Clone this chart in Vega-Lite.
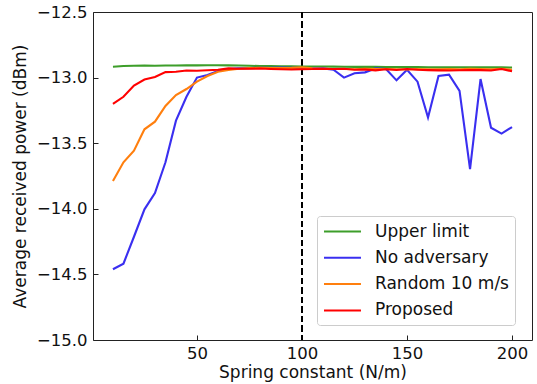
{
  "$schema": "https://vega.github.io/schema/vega-lite/v6.json",
  "width": 439,
  "height": 328,
  "autosize": {"type": "none"},
  "padding": {"left": 93, "top": 12, "right": 5, "bottom": 44},
  "config": {
    "font": "DejaVu Sans",
    "view": {"stroke": "#222", "strokeWidth": 1},
    "axis": {
      "domain": false,
      "grid": false,
      "ticks": true,
      "tickColor": "#222",
      "tickSize": -5,
      "labelFont": "DejaVu Sans",
      "labelFontSize": 16.5,
      "labelColor": "#111",
      "titleFont": "DejaVu Sans",
      "titleFontSize": 17,
      "titleFontWeight": "normal",
      "titleColor": "#111"
    }
  },
  "data": {
    "values": [
      {"k": 10, "Upper limit": -12.917, "No adversary": -14.461, "Random 10 m/s": -13.788, "Proposed": -13.2},
      {"k": 15, "Upper limit": -12.912, "No adversary": -14.418, "Random 10 m/s": -13.646, "Proposed": -13.146},
      {"k": 20, "Upper limit": -12.91, "No adversary": -14.213, "Random 10 m/s": -13.557, "Proposed": -13.06},
      {"k": 25, "Upper limit": -12.908, "No adversary": -14.004, "Random 10 m/s": -13.394, "Proposed": -13.015},
      {"k": 30, "Upper limit": -12.91, "No adversary": -13.88, "Random 10 m/s": -13.336, "Proposed": -12.995},
      {"k": 35, "Upper limit": -12.908, "No adversary": -13.645, "Random 10 m/s": -13.216, "Proposed": -12.958},
      {"k": 40, "Upper limit": -12.908, "No adversary": -13.328, "Random 10 m/s": -13.133, "Proposed": -12.955},
      {"k": 45, "Upper limit": -12.906, "No adversary": -13.146, "Random 10 m/s": -13.087, "Proposed": -12.946},
      {"k": 50, "Upper limit": -12.907, "No adversary": -13.0, "Random 10 m/s": -13.031, "Proposed": -12.948},
      {"k": 55, "Upper limit": -12.906, "No adversary": -12.98, "Random 10 m/s": -12.988, "Proposed": -12.944},
      {"k": 60, "Upper limit": -12.906, "No adversary": -12.95, "Random 10 m/s": -12.955, "Proposed": -12.94},
      {"k": 65, "Upper limit": -12.907, "No adversary": -12.935, "Random 10 m/s": -12.942, "Proposed": -12.93},
      {"k": 70, "Upper limit": -12.908, "No adversary": -12.93, "Random 10 m/s": -12.932, "Proposed": -12.932},
      {"k": 75, "Upper limit": -12.91, "No adversary": -12.928, "Random 10 m/s": -12.928, "Proposed": -12.933},
      {"k": 80, "Upper limit": -12.912, "No adversary": -12.925, "Random 10 m/s": -12.926, "Proposed": -12.931},
      {"k": 85, "Upper limit": -12.912, "No adversary": -12.925, "Random 10 m/s": -12.927, "Proposed": -12.934},
      {"k": 90, "Upper limit": -12.913, "No adversary": -12.924, "Random 10 m/s": -12.928, "Proposed": -12.936},
      {"k": 95, "Upper limit": -12.914, "No adversary": -12.925, "Random 10 m/s": -12.926, "Proposed": -12.938},
      {"k": 100, "Upper limit": -12.915, "No adversary": -12.928, "Random 10 m/s": -12.922, "Proposed": -12.936},
      {"k": 105, "Upper limit": -12.915, "No adversary": -12.93, "Random 10 m/s": -12.93, "Proposed": -12.935},
      {"k": 110, "Upper limit": -12.915, "No adversary": -12.93, "Random 10 m/s": -12.932, "Proposed": -12.932},
      {"k": 115, "Upper limit": -12.916, "No adversary": -12.94, "Random 10 m/s": -12.935, "Proposed": -12.935},
      {"k": 120, "Upper limit": -12.917, "No adversary": -13.0, "Random 10 m/s": -12.934, "Proposed": -12.933},
      {"k": 125, "Upper limit": -12.918, "No adversary": -12.967, "Random 10 m/s": -12.936, "Proposed": -12.94},
      {"k": 130, "Upper limit": -12.917, "No adversary": -12.96, "Random 10 m/s": -12.932, "Proposed": -12.938},
      {"k": 135, "Upper limit": -12.918, "No adversary": -12.93, "Random 10 m/s": -12.935, "Proposed": -12.945},
      {"k": 140, "Upper limit": -12.919, "No adversary": -12.935, "Random 10 m/s": -12.934, "Proposed": -12.936},
      {"k": 145, "Upper limit": -12.92, "No adversary": -13.021, "Random 10 m/s": -12.936, "Proposed": -12.942},
      {"k": 150, "Upper limit": -12.92, "No adversary": -12.94, "Random 10 m/s": -12.938, "Proposed": -12.934},
      {"k": 155, "Upper limit": -12.92, "No adversary": -13.031, "Random 10 m/s": -12.934, "Proposed": -12.94},
      {"k": 160, "Upper limit": -12.921, "No adversary": -13.305, "Random 10 m/s": -12.937, "Proposed": -12.943},
      {"k": 165, "Upper limit": -12.922, "No adversary": -12.988, "Random 10 m/s": -12.936, "Proposed": -12.945},
      {"k": 170, "Upper limit": -12.922, "No adversary": -12.978, "Random 10 m/s": -12.935, "Proposed": -12.946},
      {"k": 175, "Upper limit": -12.921, "No adversary": -13.102, "Random 10 m/s": -12.937, "Proposed": -12.944},
      {"k": 180, "Upper limit": -12.921, "No adversary": -13.697, "Random 10 m/s": -12.933, "Proposed": -12.942},
      {"k": 185, "Upper limit": -12.921, "No adversary": -13.011, "Random 10 m/s": -12.935, "Proposed": -12.943},
      {"k": 190, "Upper limit": -12.922, "No adversary": -13.382, "Random 10 m/s": -12.936, "Proposed": -12.946},
      {"k": 195, "Upper limit": -12.922, "No adversary": -13.427, "Random 10 m/s": -12.932, "Proposed": -12.935},
      {"k": 200, "Upper limit": -12.923, "No adversary": -13.377, "Random 10 m/s": -12.94, "Proposed": -12.952}
    ]
  },
  "layer": [
    {
      "mark": {"type": "rule", "color": "black", "strokeWidth": 1.6, "strokeDash": [6, 3.5]},
      "encoding": {"x": {"datum": 100, "type": "quantitative"}}
    },
    {
      "transform": [{"fold": ["Upper limit", "No adversary", "Random 10 m/s", "Proposed"], "as": ["series", "p"]}],
      "mark": {"type": "line", "strokeWidth": 2.1, "clip": true},
      "encoding": {
        "x": {
          "field": "k", "type": "quantitative",
          "scale": {"domain": [0.5, 209.5], "nice": false, "zero": false},
          "axis": {"values": [50, 100, 150, 200], "title": "Spring constant (N/m)", "labelPadding": 10, "titlePadding": 3}
        },
        "y": {
          "field": "p", "type": "quantitative",
          "scale": {"domain": [-15, -12.5], "nice": false, "zero": false},
          "axis": {"values": [-15, -14.5, -14, -13.5, -13, -12.5], "format": ".1f", "title": "Average received power (dBm)", "labelPadding": 11, "titlePadding": 7}
        },
        "color": {
          "field": "series", "type": "nominal",
          "scale": {
            "domain": ["Upper limit", "No adversary", "Random 10 m/s", "Proposed"],
            "range": ["#3d9e2a", "#3a2ff0", "#ff7f0e", "#ff0000"]
          },
          "legend": {
            "title": null,
            "orient": "none",
            "legendX": 224,
            "legendY": 204,
            "symbolType": "M-1,0H3.35",
            "symbolStrokeWidth": 2,
            "symbolSize": 289,
            "labelOffset": 33,
            "labelFontSize": 17,
            "labelFont": "DejaVu Sans",
            "labelColor": "#111",
            "padding": 6,
            "strokeColor": "#ccc",
            "fillColor": "white",
            "cornerRadius": 3,
            "rowPadding": 8.3
          }
        }
      }
    }
  ]
}
